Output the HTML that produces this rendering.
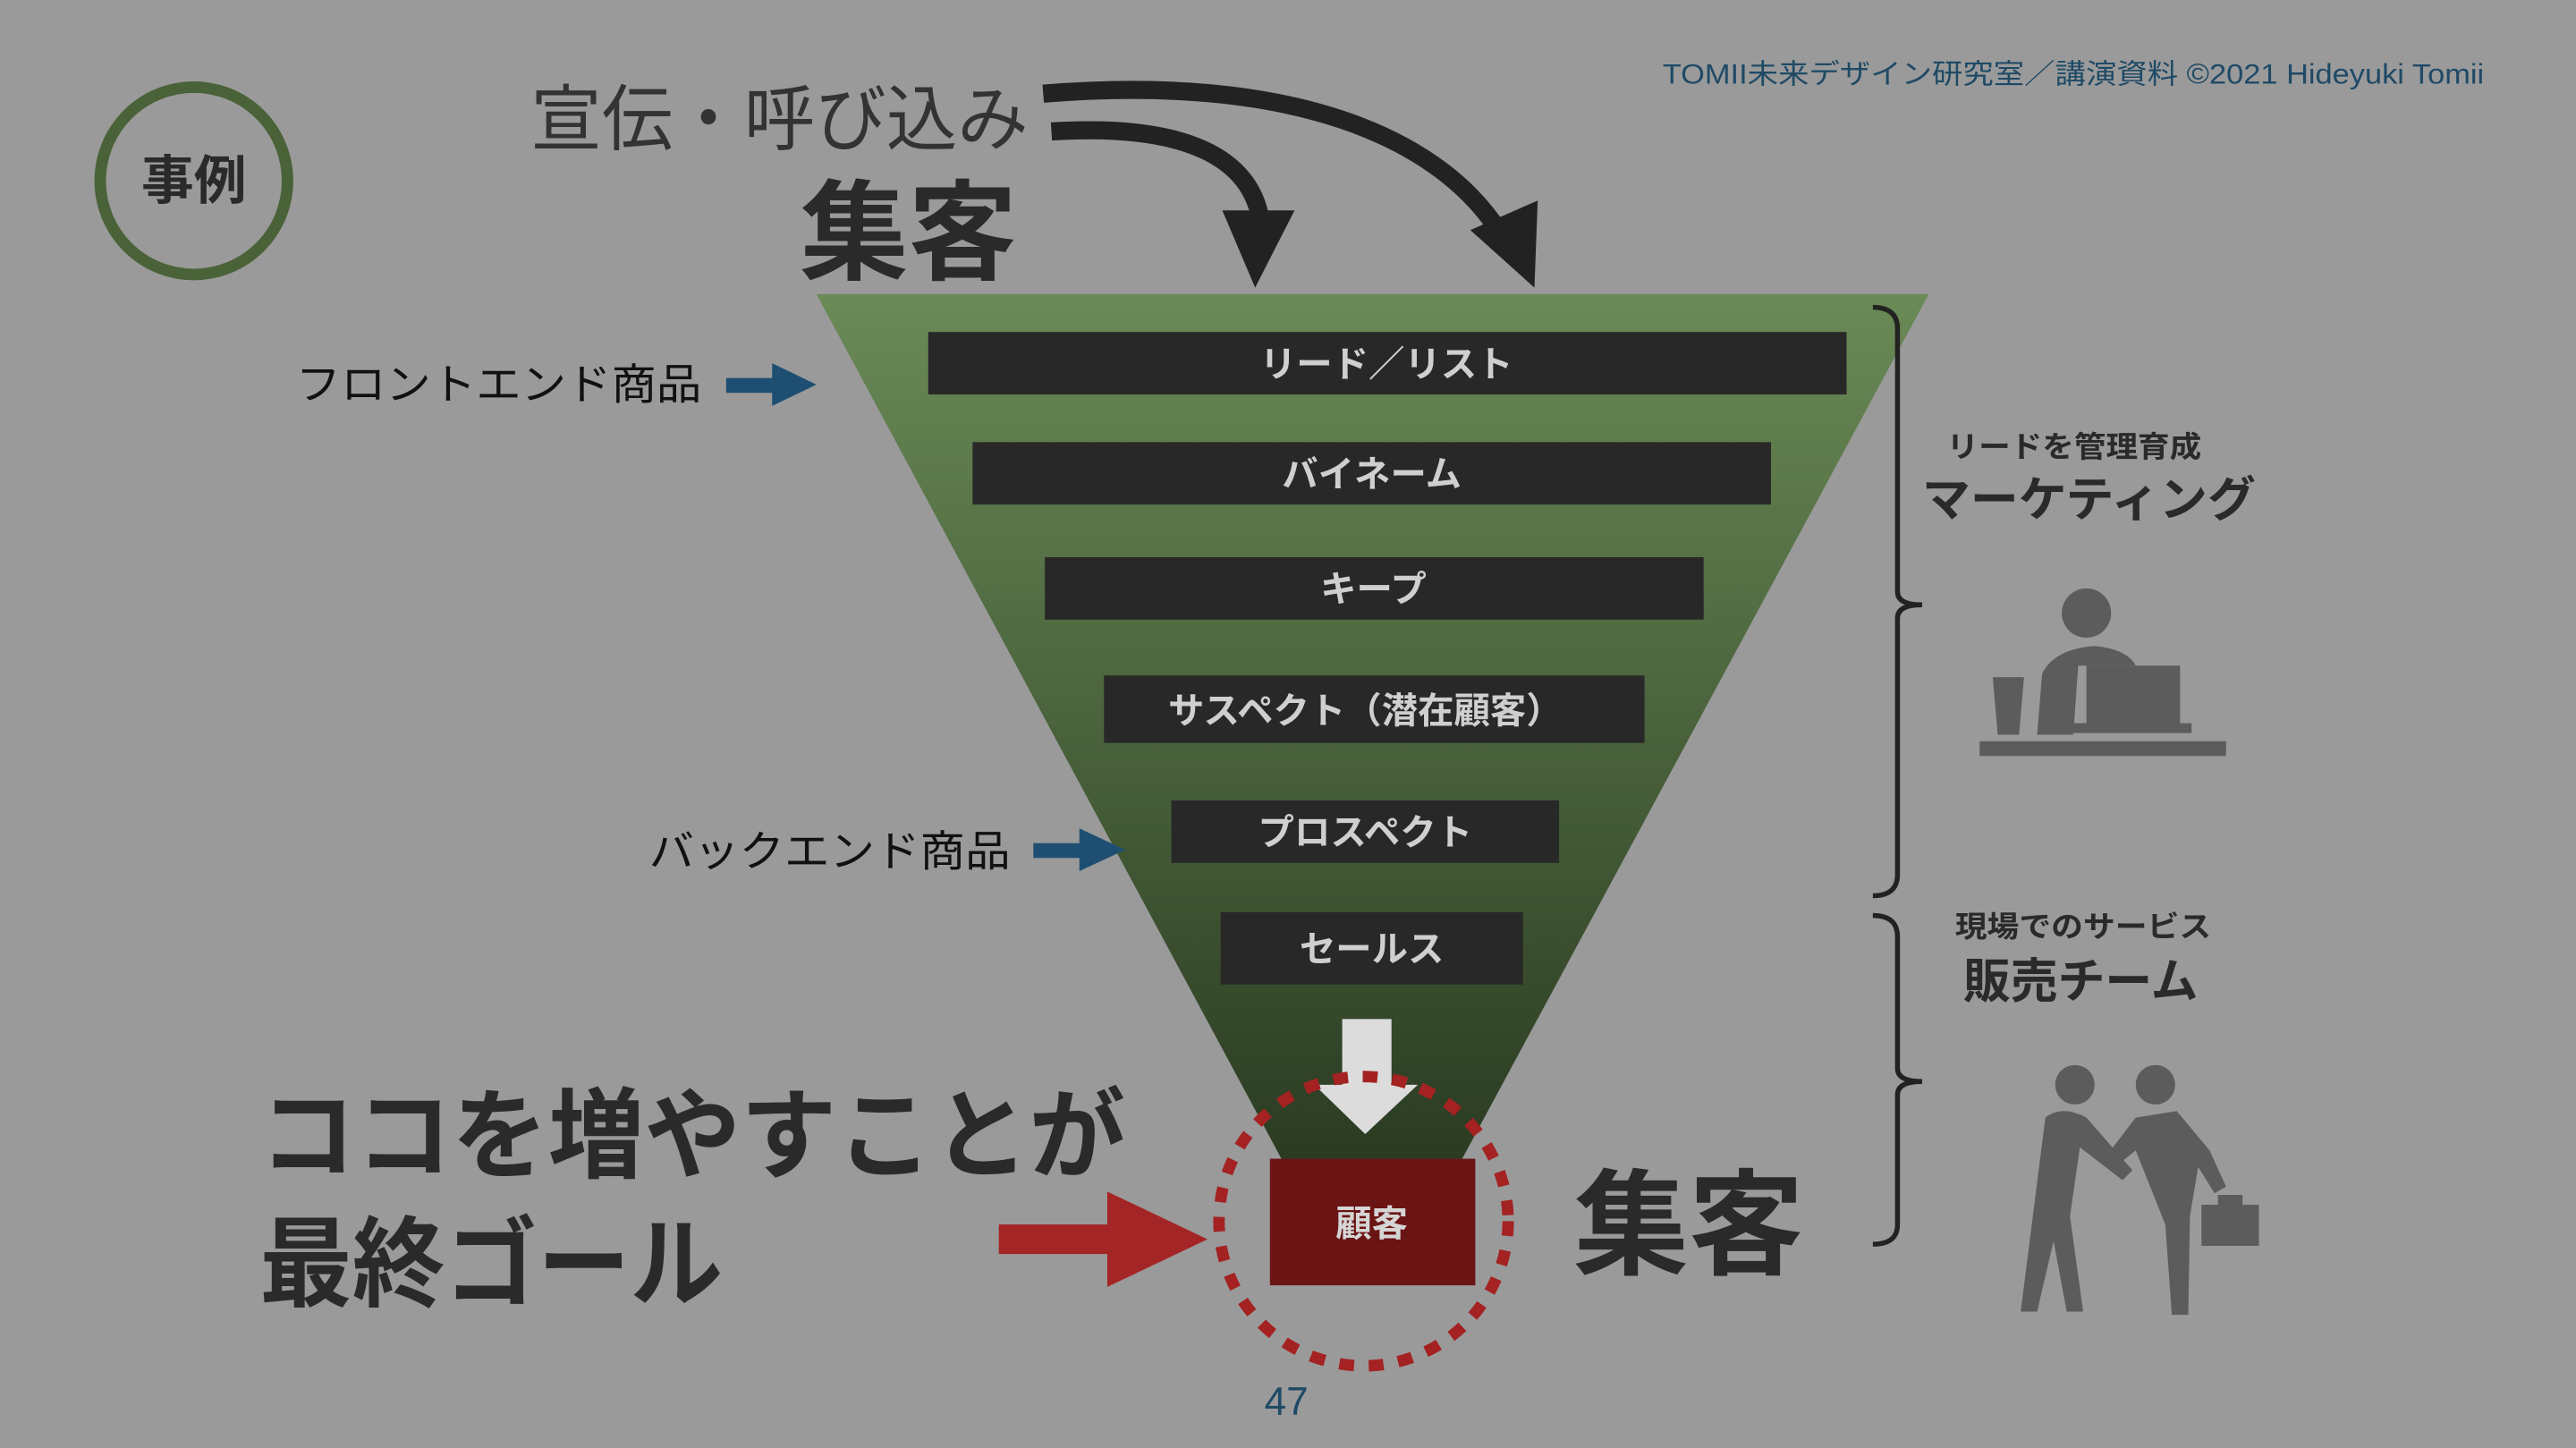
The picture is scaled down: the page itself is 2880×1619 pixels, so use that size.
<!DOCTYPE html>
<html><head><meta charset="utf-8"><style>
html,body{margin:0;padding:0;background:#9a9a9a;}
svg{display:block;}
text{font-family:"Liberation Sans","Noto Sans CJK JP",sans-serif;}
</style></head><body>
<svg width="2880" height="1619" viewBox="0 0 1568 881" preserveAspectRatio="none" xmlns="http://www.w3.org/2000/svg">
<defs>
<linearGradient id="g" x1="0" y1="0" x2="0" y2="1">
<stop offset="0" stop-color="#6a8a56"/><stop offset="1" stop-color="#2a3b22"/>
</linearGradient>
</defs>
<rect width="1568" height="881" fill="#9a9a9a"/>
<text x="1012" y="51" font-size="17" fill="#1f4a66" textLength="500" lengthAdjust="spacingAndGlyphs">TOMII未来デザイン研究室／講演資料 ©2021 Hideyuki Tomii</text>
<circle cx="118" cy="110" r="57" fill="none" stroke="#4a6238" stroke-width="7"/>
<text x="118" y="121" font-size="32" font-weight="bold" fill="#2a2a2a" text-anchor="middle">事例</text>
<text x="323" y="88" font-size="44" fill="#333" textLength="303" lengthAdjust="spacingAndGlyphs">宣伝・呼び込み</text>
<text x="487" y="165" font-size="66" font-weight="bold" fill="#2a2a2a">集客</text>
<path d="M635 57 C780 45 880 80 918 150" fill="none" stroke="#222" stroke-width="11"/>
<polygon points="895,140 936,122 934,175" fill="#222"/>
<path d="M640 80 C720 75 765 95 768 140" fill="none" stroke="#222" stroke-width="11"/>
<polygon points="744,128 788,128 764,175" fill="#222"/>
<polygon points="497,179 1174,179 890,705 780,705" fill="url(#g)"/>
<g fill="#282828">
<rect x="565" y="202" width="559" height="38"/>
<rect x="592" y="269" width="486" height="38"/>
<rect x="636" y="339" width="401" height="38"/>
<rect x="672" y="411" width="329" height="41"/>
<rect x="713" y="487" width="236" height="38"/>
<rect x="743" y="555" width="184" height="44"/>
</g>
<g font-size="22" font-weight="bold" fill="#cfcfcf" text-anchor="middle">
<text x="844" y="229">リード／リスト</text>
<text x="835" y="296">バイネーム</text>
<text x="836" y="366">キープ</text>
<text x="831" y="440">サスペクト（潜在顧客）</text>
<text x="831" y="514">プロスペクト</text>
<text x="835" y="585">セールス</text>
</g>
<rect x="817" y="620" width="30" height="42" fill="#dcdcdc"/>
<polygon points="800,660 863,660 831,690" fill="#dcdcdc"/>
<rect x="773" y="705" width="125" height="77" fill="#6b1414"/>
<text x="835" y="752" font-size="22" font-weight="bold" fill="#d5d5d5" text-anchor="middle">顧客</text>
<circle cx="830" cy="743" r="88" fill="none" stroke="#a42222" stroke-width="7" stroke-dasharray="9 9"/>
<rect x="608" y="745" width="68" height="18" fill="#a42525"/>
<polygon points="674,725 735,754 674,783" fill="#a42525"/>
<text x="158" y="712" font-size="60" font-weight="bold" fill="#2a2a2a" textLength="527" lengthAdjust="spacingAndGlyphs">ココを増やすことが</text>
<text x="158" y="790" font-size="60" font-weight="bold" fill="#2a2a2a" textLength="282" lengthAdjust="spacingAndGlyphs">最終ゴール</text>
<text x="958" y="770" font-size="70" font-weight="bold" fill="#2a2a2a">集客</text>
<text x="180" y="243" font-size="26" fill="#111" textLength="247" lengthAdjust="spacingAndGlyphs">フロントエンド商品</text>
<rect x="442" y="230" width="32" height="9" fill="#1e4f72"/><polygon points="470,221 497,234 470,247" fill="#1e4f72"/>
<text x="395" y="527" font-size="26" fill="#111" textLength="220" lengthAdjust="spacingAndGlyphs">バックエンド商品</text>
<rect x="629" y="513" width="32" height="9" fill="#1e4f72"/><polygon points="657,504 685,517 657,530" fill="#1e4f72"/>
<path d="M1140 187 Q1155 187 1155 200 L1155 360 Q1155 368 1170 368 Q1155 368 1155 376 L1155 532 Q1155 545 1140 545" fill="none" stroke="#222" stroke-width="3"/>
<path d="M1140 557 Q1155 557 1155 570 L1155 650 Q1155 658 1170 658 Q1155 658 1155 666 L1155 745 Q1155 757 1140 757" fill="none" stroke="#222" stroke-width="3"/>
<text x="1185" y="278" font-size="18" font-weight="bold" fill="#2a2a2a" textLength="155" lengthAdjust="spacingAndGlyphs">リードを管理育成</text>
<text x="1170" y="314" font-size="29" font-weight="bold" fill="#2a2a2a" textLength="203" lengthAdjust="spacingAndGlyphs">マーケティング</text>
<text x="1190" y="570" font-size="18" font-weight="bold" fill="#2a2a2a" textLength="156" lengthAdjust="spacingAndGlyphs">現場でのサービス</text>
<text x="1195" y="607" font-size="29" font-weight="bold" fill="#2a2a2a" textLength="143" lengthAdjust="spacingAndGlyphs">販売チーム</text>
<g fill="#5c5c5c">
<circle cx="1270" cy="373" r="15"/>
<path d="M1240 447 L1243 410 Q1250 395 1275 393 Q1295 395 1300 405 L1265 405 L1262 447 Z"/>
<rect x="1270" y="405" width="57" height="37"/>
<rect x="1262" y="440" width="72" height="6"/>
<polygon points="1213,412 1232,412 1229,447 1216,447"/>
<rect x="1205" y="451" width="150" height="9"/>
<circle cx="1263" cy="660" r="12"/>
<circle cx="1312" cy="660" r="12"/>
<path d="M1245 680 Q1255 672 1270 680 L1298 712 L1292 718 L1266 698 L1260 740 L1268 798 L1258 798 L1250 755 L1240 798 L1230 798 Z"/>
<path d="M1300 680 L1325 676 L1345 700 L1355 722 L1348 726 L1338 710 L1333 740 L1332 800 L1322 800 L1318 745 L1300 700 L1285 712 L1280 706 Z"/>
<rect x="1340" y="733" width="35" height="25"/>
<rect x="1350" y="727" width="15" height="6"/>
</g>
<text x="783" y="861" font-size="24" fill="#1f4a66" text-anchor="middle">47</text>
</svg>
</body></html>
